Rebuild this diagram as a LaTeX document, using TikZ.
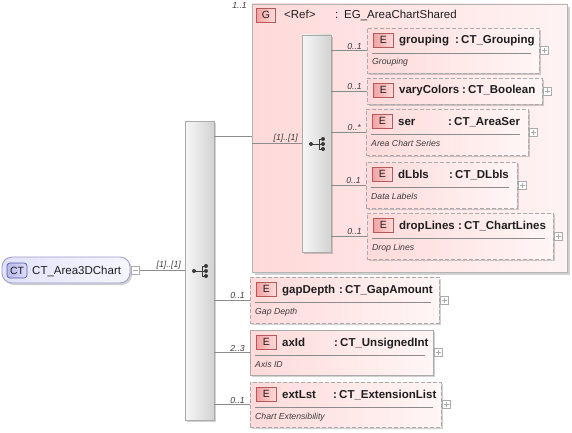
\documentclass[tikz,border=0pt]{standalone}
\usepackage{fontspec}
\setmainfont{Liberation Sans}
\usetikzlibrary{calc,shadows}
\definecolor{connc}{HTML}{8C8C8C}
\definecolor{boxc}{HTML}{ABABAB}
\definecolor{grpc}{HTML}{B4B4B4}
\definecolor{elL}{HTML}{FFDADA}
\definecolor{elR}{HTML}{FFF6F6}
\definecolor{grpL}{HTML}{FFD9D9}
\definecolor{grpR}{HTML}{FFF3F3}
\definecolor{bdgL}{HTML}{F2A2A2}
\definecolor{bdgR}{HTML}{FFDCDC}
\definecolor{bdgD}{HTML}{B45A5A}
\definecolor{seqL}{HTML}{F7F7F7}
\definecolor{seqR}{HTML}{D2D2D2}
\definecolor{rootL}{HTML}{E2E2F8}
\definecolor{rootR}{HTML}{F6F6FF}
\definecolor{rootD}{HTML}{9A9ACC}
\definecolor{ctL}{HTML}{B8B8EC}
\definecolor{ctR}{HTML}{DCDCFA}
\definecolor{ctD}{HTML}{5A5AA6}
\definecolor{txtc}{HTML}{1E1E1E}
\definecolor{multc}{HTML}{3C3C3C}
\definecolor{iconc}{HTML}{3A3A3A}
\tikzset{
  x=1pt, y=-1pt,
  conn/.style={draw=connc, line width=0.7pt},
  shad/.style={drop shadow={shadow xshift=2pt, shadow yshift=-2pt, fill=black, opacity=0.18}},
  elopt/.style={draw=boxc, line width=0.8pt, dash pattern=on 4pt off 2pt, left color=elL, right color=elR, inner sep=0pt, outer sep=0pt, shad},
  elreq/.style={draw=boxc, line width=0.8pt, left color=elL, right color=elR, inner sep=0pt, outer sep=0pt, shad},
  grpbox/.style={draw=grpc, line width=0.8pt, left color=grpL, right color=grpR, inner sep=0pt, outer sep=0pt, drop shadow={shadow xshift=3pt, shadow yshift=-3pt, fill=black, opacity=0.18}},
  seqbox/.style={draw=boxc, line width=0.8pt, left color=seqL, right color=seqR, inner sep=0pt, outer sep=0pt, shad},
  ebadge/.style={draw=bdgD, line width=0.7pt, left color=bdgL, right color=bdgR, minimum width=20pt, minimum height=14pt, inner sep=0pt, font=\fontsize{10.5}{12}\selectfont, text=txtc},
  rootbox/.style={draw=rootD, line width=0.8pt, rounded corners=10pt, left color=rootL, right color=rootR, inner sep=0pt, outer sep=0pt, shad},
  ctbadge/.style={draw=ctD, line width=0.7pt, rounded corners=3pt, left color=ctL, right color=ctR, minimum width=20pt, minimum height=15pt, inner sep=0pt, font=\fontsize{10.5}{12}\selectfont, text=txtc},
  nametext/.style={anchor=base west, inner sep=0pt, font=\fontsize{11.5}{13}\selectfont\bfseries, text=txtc},
  regtext/.style={anchor=base west, inner sep=0pt, font=\fontsize{11.5}{13}\selectfont, text=txtc},
  doctext/.style={anchor=base west, inner sep=0pt, font=\fontsize{8.7}{10}\selectfont\itshape, text=multc},
  multext/.style={inner sep=0pt, font=\fontsize{8.7}{10}\selectfont\itshape, text=multc},
  sepline/.style={draw=connc, line width=0.7pt},
  plusbox/.style={draw=boxc, fill=white, line width=0.6pt, minimum width=8pt, minimum height=8pt, inner sep=0pt},
  plussign/.style={draw=boxc, line width=0.6pt},
  icon/.style={draw=iconc, line width=0.9pt},
}
\newcommand\mkelem[9]{%
  \node[#6, minimum width=#4pt, minimum height=#5pt, anchor=north west] (#1) at (#2,#3) {};
  \node[ebadge, anchor=north west] (#1-b) at ($(#1.north west)+(6,5)$) {E};
  \node[nametext] (#1-n) at ($(#1.north west)+(32,16)$) {#7};
  \node[nametext] (#1-c) at (#8,#3+16) {:};
  \node[nametext] (#1-t) at (#8+6,#3+16) {#9};
  \node[plusbox] (#1-p) at ($(#1.east)+(5,0)$) {};
  \draw[plussign] ($(#1-p.center)+(-2.5,0)$) -- ($(#1-p.center)+(2.5,0)$)
                  ($(#1-p.center)+(0,-2.5)$) -- ($(#1-p.center)+(0,2.5)$);
}
\newcommand\mkdoc[2]{%
  \draw[sepline] ($(#1.north west)+(5,25)$) -- ($(#1.north east)+(-8,25)$);
  \node[doctext] (#1-d) at ($(#1.north west)+(5,37)$) {#2};
}
\newcommand\seqicon[1]{%
  \coordinate (#1-i) at ($(#1.center)+(0.5,0.5)$);
  \draw[icon] ($(#1-i)+(-6,0)$) -- ($(#1-i)+(6,0)$)
              ($(#1-i)+(2,-5)$) -- ($(#1-i)+(2,5)$)
              ($(#1-i)+(2,-5)$) -- ($(#1-i)+(6,-5)$)
              ($(#1-i)+(2,5)$) -- ($(#1-i)+(6,5)$);
  \fill[iconc] ($(#1-i)+(-6,0)$) circle (2) ($(#1-i)+(6,-5)$) circle (2)
               ($(#1-i)+(6,0)$) circle (2) ($(#1-i)+(6,5)$) circle (2);
}
\newcommand\conto[3]{%
  \draw[conn] (#1.east |- #2.west) -- (#2.west);
  \node[multext, anchor=south east] (#2-m) at ($(#2.west)+(-5,-1)$) {#3};
}
\begin{document}
\begin{tikzpicture}
\useasboundingbox (0,0) rectangle (572,433);

% group box
\node[grpbox, minimum width=315pt, minimum height=268pt, anchor=north west] (grp) at (252,4) {};
\node[multext, anchor=east] (grpm) at ($(grp.north west)+(-5,2)$) {1..1};
\node[ebadge, minimum width=19pt, anchor=north west] (grpb) at (256,8) {G};
\node[regtext] (grpr) at (284,19) {<Ref>};
\node[regtext] (grpc) at (335,19) {:};
\node[regtext] (grpt) at (344,19) {EG\_AreaChartShared};

% sequence boxes
\node[seqbox, minimum width=29pt, minimum height=299pt, anchor=north west] (seqA) at (185,121) {};
\seqicon{seqA}
\node[seqbox, minimum width=29pt, minimum height=217pt, anchor=north west] (seqB) at (302,35) {};
\seqicon{seqB}

% root
\node[rootbox, minimum width=128pt, minimum height=26pt, anchor=north west] (root) at (2,257) {};
\node[ctbadge] (rootb) at (17,270.5) {CT};
\node[regtext] (rootn) at (32,274.5) {CT\_Area3DChart};
\node[plusbox] (rootm) at (135.5,270.5) {};
\draw[plussign] ($(rootm.center)+(-2.5,0)$) -- ($(rootm.center)+(2.5,0)$);

% elements
\mkelem{grouping}{367}{28}{172}{45}{elopt}{grouping}{455}{CT\_Grouping}
\mkdoc{grouping}{Grouping}
\mkelem{vary}{367}{78}{175}{26}{elopt}{varyColors}{462}{CT\_Boolean}
\mkelem{ser}{366}{109}{162}{46}{elopt}{ser}{448}{CT\_AreaSer}
\mkdoc{ser}{Area Chart Series}
\mkelem{dlbls}{366}{162}{151}{46}{elopt}{dLbls}{449}{CT\_DLbls}
\mkdoc{dlbls}{Data Labels}
\mkelem{drop}{367}{213}{186}{46}{elopt}{dropLines}{458}{CT\_ChartLines}
\mkdoc{drop}{Drop Lines}
\mkelem{gap}{250}{277}{189}{46}{elopt}{gapDepth}{339}{CT\_GapAmount}
\mkdoc{gap}{Gap Depth}
\mkelem{axid}{250}{330}{183}{45}{elreq}{axId}{334}{CT\_UnsignedInt}
\mkdoc{axid}{Axis ID}
\mkelem{ext}{250}{382}{191}{45}{elopt}{extLst}{333}{CT\_ExtensionList}
\mkdoc{ext}{Chart Extensibility}

% connectors
\draw[conn] (rootm.east) -- (seqA.west |- rootm.east);
\node[multext, anchor=south east] (rootlab) at ($(seqA.west |- rootm.east)+(-4,-1)$) {[1]..[1]};
\coordinate (gin) at (252,136);
\draw[conn] (seqA.east |- gin) -- (gin);
\draw[conn] (grp.west |- seqB.west) -- (seqB.west);
\node[multext, anchor=south east] (grplab) at ($(seqB.west)+(-4,-1)$) {[1]..[1]};
\conto{seqB}{grouping}{0..1}
\conto{seqB}{vary}{0..1}
\conto{seqB}{ser}{0..*}
\conto{seqB}{dlbls}{0..1}
\conto{seqB}{drop}{0..1}
\conto{seqA}{gap}{0..1}
\conto{seqA}{axid}{2..3}
\conto{seqA}{ext}{0..1}
\end{tikzpicture}
\end{document}
